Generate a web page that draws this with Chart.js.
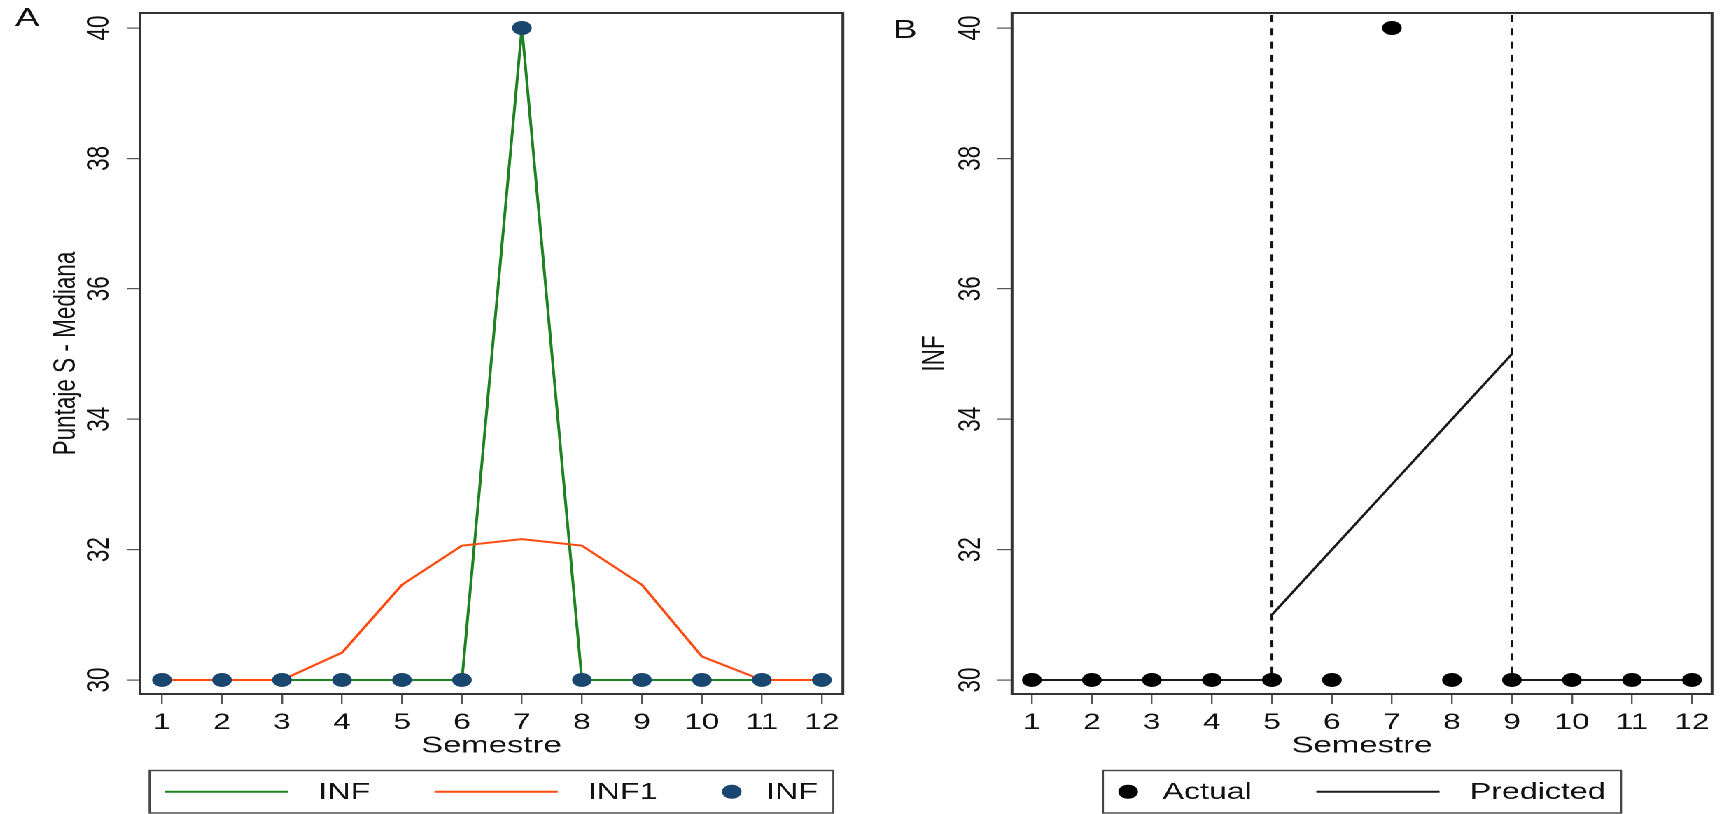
<!DOCTYPE html>
<html><head><meta charset="utf-8">
<script src="https://cdn.jsdelivr.net/npm/chart.js@4.4.1/dist/chart.umd.min.js"></script>
<style>
html,body{margin:0;padding:0;background:#fff;overflow:hidden;}
#stage{position:absolute;left:0;top:0;width:1230px;height:814px;transform:scaleX(1.4);transform-origin:0 0;display:flex;}
.panel{width:615px;height:814px;position:relative;}
canvas{width:615px;height:814px;display:block;}
</style></head><body>
<div id="stage">
  <div class="panel"><canvas id="chartA" width="615" height="814"></canvas></div>
  <div class="panel"><canvas id="chartB" width="615" height="814"></canvas></div>
</div>
<script>
// ---- data ----
const semesters = [1,2,3,4,5,6,7,8,9,10,11,12];
const yTicks = [30,32,34,36,38,40];
const infValues = [30,30,30,30,30,30,40,30,30,30,30,30];
const inf1Values = [30,30,30,30.42,31.46,32.06,32.16,32.06,31.46,30.36,30,30];
const actualValues = [30,30,30,30,30,30,40,30,30,30,30,30];
const predPreSem = [1,2,3,4,5];
const predPreVal = [30,30,30,30,30];
const predMidSem = [5,6,7,8,9];
const predMidVal = [31,32,33,34,35];
const predPostSem = [9,10,11,12];
const predPostVal = [30,30,30,30];
const interventionSemesters = [5,9];

const FAMILY = '"Liberation Sans", Arial, Helvetica, sans-serif';
Chart.defaults.font.family = FAMILY;
Chart.defaults.color = '#111';

const pts = (xs, ys) => xs.map((x, i) => ({x: x, y: ys[i]}));
const predictedData = [].concat(
  pts(predPreSem, predPreVal), [{x: predPreSem[predPreSem.length-1], y: null}],
  pts(predMidSem, predMidVal), [{x: predMidSem[predMidSem.length-1], y: null}],
  pts(predPostSem, predPostVal)
);

// ---- plugins ----
const plotFrame = {
  id: 'plotFrame',
  afterDatasetsDraw(chart) {
    const {ctx, chartArea: a} = chart;
    ctx.save();
    ctx.strokeStyle = '#333';
    ctx.lineWidth = 2;
    ctx.strokeRect(a.left, a.top, a.right - a.left, a.bottom - a.top);
    ctx.restore();
  }
};

const refLines = {
  id: 'refLines',
  beforeDatasetsDraw(chart, args, opts) {
    if (!opts || !opts.values) return;
    const {ctx, chartArea: a} = chart;
    const xs = chart.scales.x;
    ctx.save();
    ctx.strokeStyle = '#111';
    ctx.lineWidth = 2;
    ctx.setLineDash([7, 6.3]);
    opts.values.forEach(v => {
      const px = xs.getPixelForValue(v);
      ctx.beginPath();
      ctx.moveTo(px, a.top + 2);
      ctx.lineTo(px, a.bottom);
      ctx.stroke();
    });
    ctx.restore();
  }
};

const boxLegend = {
  id: 'boxLegend',
  afterDraw(chart, args, o) {
    const {ctx, chartArea: a} = chart;
    ctx.save();
    ctx.font = `${o.fontSize}px ${FAMILY}`;
    const items = chart.data.datasets.map(ds => {
      const isDot = ds.showLine === false;
      const sw = isDot ? ds.pointRadius * 2 : o.sampleLen;
      const gap = isDot ? o.dotGap : o.lineGap;
      const tw = ctx.measureText(ds.label).width;
      return {ds, isDot, sw, gap, tw, w: sw + gap + tw};
    });
    const total = items.reduce((s, it) => s + it.w, 0) + o.itemGap * (items.length - 1);
    const boxW = total + 2 * o.margin;
    const cx = (a.left + a.right) / 2;
    const bx = cx - boxW / 2;
    ctx.strokeStyle = '#444';
    ctx.lineWidth = 1.4;
    ctx.strokeRect(bx, o.top, boxW, o.bottom - o.top);
    const cy = (o.top + o.bottom) / 2;
    let x = bx + o.margin;
    items.forEach(it => {
      if (it.isDot) {
        ctx.fillStyle = it.ds.pointBackgroundColor;
        ctx.beginPath();
        ctx.arc(x + it.sw / 2, cy, it.sw / 2, 0, Math.PI * 2);
        ctx.fill();
      } else {
        ctx.strokeStyle = it.ds.borderColor;
        ctx.lineWidth = it.ds.borderWidth;
        ctx.beginPath();
        ctx.moveTo(x, cy);
        ctx.lineTo(x + it.sw, cy);
        ctx.stroke();
      }
      ctx.fillStyle = '#111';
      ctx.textAlign = 'left';
      ctx.textBaseline = 'middle';
      ctx.fillText(it.ds.label, x + it.sw + it.gap, cy + 1);
      x += it.w + o.itemGap;
    });
    ctx.restore();
  }
};

function makeScales(cfg) {
  return {
    x: {
      type: 'linear', min: cfg.xmin, max: cfg.xmax,
      afterBuildTicks: s => { s.ticks = semesters.map(v => ({value: v})); },
      afterFit: s => { s.height = 70; s.paddingLeft = 0; s.paddingRight = 0; },
      grid: {display: true, drawOnChartArea: false, drawTicks: true, tickLength: 10, color: '#555', lineWidth: 1.2},
      border: {display: false},
      ticks: {padding: 5.5, font: {size: 22.5}, color: '#111', maxRotation: 0, minRotation: 0, autoSkip: false},
      title: {display: true, text: 'Semestre', font: {size: 23.5}, color: '#111', padding: {top: 0, bottom: 4}}
    },
    y: {
      type: 'linear', min: 29.785, max: 40.23,
      afterBuildTicks: s => { s.ticks = yTicks.map(v => ({value: v})); },
      afterFit: s => { s.width = cfg.yWidth; s.paddingTop = 0; s.paddingBottom = 0; },
      grid: {display: true, drawOnChartArea: false, drawTicks: true, tickLength: cfg.yTick, color: '#555', lineWidth: 1.2},
      border: {display: false},
      ticks: {padding: cfg.yPad, minRotation: 90, maxRotation: 90, crossAlign: 'center', font: {size: 22.5}, color: '#111', autoSkip: false},
      title: {display: true, text: cfg.yTitle, font: {size: 22.5}, color: '#111', padding: {top: cfg.yTitlePad, bottom: 0}}
    }
  };
}

const common = {
  responsive: false,
  animation: false,
  devicePixelRatio: 2,
  events: [],
  elements: {point: {hoverRadius: 0}},
};

new Chart(document.getElementById('chartA'), {
  type: 'line',
  data: {
    datasets: [
      {label: 'INF', data: pts(semesters, infValues), borderColor: '#1f8220', borderWidth: 2, pointRadius: 0, order: 3},
      {label: 'INF1', data: pts(semesters, inf1Values), borderColor: '#ff4a10', borderWidth: 2, pointRadius: 0, order: 2},
      {label: 'INF', data: pts(semesters, infValues), showLine: false, pointRadius: 7, pointBackgroundColor: '#1a476f', pointBorderWidth: 0, order: 1}
    ]
  },
  options: Object.assign({}, common, {
    layout: {padding: {left: 10.7, right: 12.9, top: 0, bottom: 50}},
    scales: makeScales({xmin: 0.634, xmax: 12.35, yWidth: 89.3, yTick: 9.5, yPad: 6.6, yTitle: 'Puntaje S - Mediana', yTitlePad: 22.9}),
    plugins: {
      legend: {display: false}, tooltip: {enabled: false},
      title: {display: true, text: 'A', align: 'start', color: '#111', font: {size: 26, weight: 'normal', lineHeight: 1}, padding: {top: 6, bottom: -19}},
      boxLegend: {top: 770.5, bottom: 813, fontSize: 23, sampleLen: 88, lineGap: 21.5, dotGap: 17.5, itemGap: 46, margin: 11}
    }
  }),
  plugins: [plotFrame, boxLegend]
});

new Chart(document.getElementById('chartB'), {
  type: 'line',
  data: {
    datasets: [
      {label: 'Actual', data: pts(semesters, actualValues), showLine: false, pointRadius: 7, pointBackgroundColor: '#000', pointBorderWidth: 0, order: 1},
      {label: 'Predicted', data: predictedData, borderColor: '#1a1a1a', borderWidth: 2, pointRadius: 0, spanGaps: false, order: 2}
    ]
  },
  options: Object.assign({}, common, {
    layout: {padding: {left: 22.9, right: 7.1, top: 0, bottom: 50}},
    scales: makeScales({xmin: 0.669, xmax: 12.334, yWidth: 85, yTick: 10.5, yPad: 6, yTitle: 'INF', yTitlePad: 16.5}),
    plugins: {
      legend: {display: false}, tooltip: {enabled: false},
      title: {display: true, text: 'B', align: 'start', color: '#111', font: {size: 26, weight: 'normal', lineHeight: 1}, padding: {top: 18, bottom: -31}},
      refLines: {values: interventionSemesters},
      boxLegend: {top: 770.5, bottom: 813, fontSize: 23, sampleLen: 88, lineGap: 21.5, dotGap: 17.5, itemGap: 46, margin: 11}
    }
  }),
  plugins: [plotFrame, refLines, boxLegend]
});
</script>
</body></html>
